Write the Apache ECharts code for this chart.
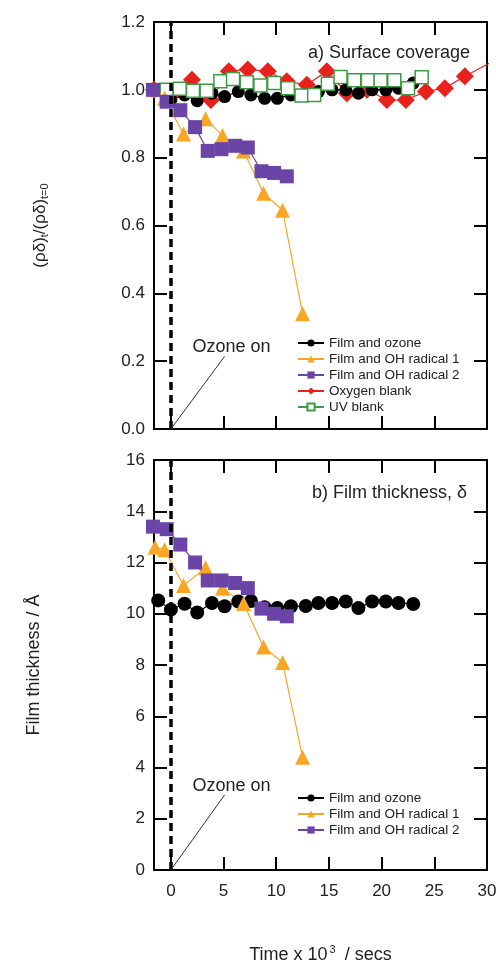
<!DOCTYPE html>
<html>
<head>
<meta charset="utf-8">
<script src="https://cdn.jsdelivr.net/npm/echarts@6/dist/echarts.min.js"></script>
<style>html,body{margin:0;padding:0;background:#fff}#c{width:496px;height:962px}</style>
</head>
<body>
<div id="c"></div>
<script>
// ---- data ----
const xTickValues = [0, 5, 10, 15, 20, 25, 30];

const xOzone = [-1.2, 0, 1.3, 2.5, 3.9, 5.1, 6.4, 7.6, 8.9, 10.1, 11.4, 12.8, 14.0, 15.3, 16.6, 17.8, 19.1, 20.4, 21.6, 23.0];
const covOzone = [1.0, 0.97, 0.985, 0.968, 0.99, 0.98, 0.995, 0.985, 0.975, 0.975, 0.985, 0.985, 0.995, 1.0, 1.0, 0.99, 1.0, 1.0, 1.005, 1.02];
const thickOzone = [10.52, 10.16, 10.39, 10.05, 10.42, 10.29, 10.48, 10.5, 10.25, 10.22, 10.29, 10.3, 10.42, 10.42, 10.48, 10.22, 10.48, 10.48, 10.42, 10.38];

const xOH1 = [-1.5, -0.6, 1.2, 3.3, 4.9, 6.9, 8.8, 10.6, 12.5];
const covOH1 = [1.0, 0.975, 0.87, 0.915, 0.865, 0.82, 0.695, 0.645, 0.34];
const thickOH1 = [12.6, 12.5, 11.1, 11.8, 11.0, 10.4, 8.7, 8.1, 4.4];

const xOH2 = [-1.7, -0.4, 0.9, 2.3, 3.5, 4.8, 6.1, 7.3, 8.6, 9.8, 11.0];
const covOH2 = [1.0, 0.965, 0.94, 0.89, 0.82, 0.825, 0.835, 0.83, 0.76, 0.755, 0.745];
const thickOH2 = [13.4, 13.3, 12.7, 12.0, 11.3, 11.3, 11.2, 11.0, 10.2, 10.0, 9.9];

const xO2 = [-1.6, 0.2, 2.0, 3.8, 5.5, 7.3, 9.2, 11.0, 12.9, 14.8, 16.7, 18.6, 20.5, 22.3, 24.2, 26.0, 27.9, 30.3];
const covO2 = [1.0, 0.99, 1.03, 0.97, 1.055, 1.06, 1.055, 1.025, 1.015, 1.055, 0.99, 1.0, 0.97, 0.97, 0.995, 1.005, 1.04, 1.08];

const xUV = [-0.4, 0.85, 2.1, 3.4, 4.7, 5.9, 7.2, 8.5, 9.8, 11.1, 12.4, 13.6, 14.9, 16.1, 17.4, 18.7, 19.9, 21.2, 22.5, 23.8];
const covUV = [1.0, 1.003, 0.997, 0.997, 1.025, 1.032, 1.022, 1.013, 1.02, 1.005, 0.983, 0.985, 1.018, 1.038, 1.028, 1.028, 1.028, 1.028, 1.005, 1.037];

// annotation anchors (data coords)
const ozoneLineTop = [[0, 0], [5.1, 0.214]];
const ozoneTextTop = [5.75, 0.243];
const ozoneLineBot = [[0, 0], [5.1, 2.93]];
const ozoneTextBot = [5.75, 3.28];

const names = ['Film and ozone', 'Film and OH radical 1', 'Film and OH radical 2', 'Oxygen blank', 'UV blank'];

// ---- chart ----
const FONT = 'Liberation Sans, Arial, sans-serif';
const TXT = '#222';
const zip = (xs, ys) => xs.map((x, i) => [x, ys[i]]);

function xAx(gi, pos, showLabel, extra) {
  return Object.assign({
    type: 'value', gridIndex: gi, position: pos, min: -1.6, max: 30,
    axisLine: { onZero: false, lineStyle: { color: '#000', width: 2 } },
    axisTick: { inside: true, length: 13, customValues: xTickValues, lineStyle: { color: '#000', width: 2 } },
    axisLabel: { show: showLabel, customValues: xTickValues, margin: 13, fontSize: 17, color: TXT, fontFamily: FONT },
    splitLine: { show: false }
  }, extra || {});
}
function yAx(gi, pos, showLabel, max, interval, fmt, extra) {
  return Object.assign({
    type: 'value', gridIndex: gi, position: pos, min: 0, max: max, interval: interval,
    axisLine: { onZero: false, lineStyle: { color: '#000', width: 2 } },
    axisTick: { inside: true, length: 13, lineStyle: { color: '#000', width: 2 } },
    axisLabel: { show: showLabel, margin: 9, fontSize: 17, color: TXT, fontFamily: FONT, formatter: fmt },
    splitLine: { show: false }
  }, extra || {});
}

const dashLine = {
  silent: true, symbol: 'none', animation: false,
  label: { show: false },
  lineStyle: { color: '#000', type: [8, 5], width: 3.5 },
  data: [{ xAxis: 0 }]
};
function ozoneLine(seg) {
  return {
    silent: true, symbol: 'none', animation: false, label: { show: false },
    lineStyle: { color: '#333', type: 'solid', width: 1 },
    data: [[{ coord: seg[0] }, { coord: seg[1] }]]
  };
}
function ozoneText(pt) {
  return {
    silent: true, animation: false,
    data: [{ coord: pt, symbol: 'rect', symbolSize: 1, itemStyle: { color: 'rgba(0,0,0,0)' },
      label: { show: true, position: 'inside', formatter: 'Ozone on', fontSize: 18, color: TXT, fontFamily: FONT } }]
  };
}

const C = { black: '#000000', orange: '#F8A623', purple: '#6A44A6', red: '#E8211D', green: '#3D9B46' };

function mk(name, gi, data, color, symbol, size, extra) {
  return Object.assign({
    name, type: 'line', xAxisIndex: gi * 2, yAxisIndex: gi * 2, data,
    symbol, symbolSize: size, showAllSymbol: true,
    lineStyle: { color, width: 1.2 },
    itemStyle: { color },
    animation: false
  }, extra || {});
}

const series = [
  mk(names[3], 0, zip(xO2, covO2), C.red, 'diamond', 18),
  mk(names[0], 0, zip(xOzone, covOzone), C.black, 'circle', 13,
     { markLine: dashLine }),
  mk(names[4], 0, zip(xUV, covUV), C.green, 'rect', 13,
     { itemStyle: { color: '#fff', borderColor: C.green, borderWidth: 1.5 } }),
  mk(names[1], 0, zip(xOH1, covOH1), C.orange, 'triangle', 15,
     { clip: false, markLine: ozoneLine(ozoneLineTop), markPoint: ozoneText(ozoneTextTop) }),
  mk(names[2], 0, zip(xOH2, covOH2), C.purple, 'rect', 14, { clip: false }),

  mk(names[0], 1, zip(xOzone, thickOzone), C.black, 'circle', 14,
     { markLine: dashLine }),
  mk(names[1], 1, zip(xOH1, thickOH1), C.orange, 'triangle', 15,
     { clip: false, markLine: ozoneLine(ozoneLineBot), markPoint: ozoneText(ozoneTextBot) }),
  mk(names[2], 1, zip(xOH2, thickOH2), C.purple, 'rect', 14, { clip: false })
];

const legendBase = {
  orient: 'vertical', left: 297, itemWidth: 26, itemHeight: 9, itemGap: 2, padding: 0,
  selectedMode: false,
  textStyle: { fontSize: 13.5, color: TXT, fontFamily: FONT, lineHeight: 14 }
};

const option = {
  backgroundColor: '#fff',
  animation: false,
  textStyle: { fontFamily: FONT },
  title: [
    { text: 'a) Surface coverage', right: 26, top: 44, padding: 0,
      textStyle: { fontSize: 18, fontWeight: 'normal', color: TXT, fontFamily: FONT } },
    { text: 'b) Film thickness, δ', right: 29, top: 484, padding: 0,
      textStyle: { fontSize: 18, fontWeight: 'normal', color: TXT, fontFamily: FONT } }
  ],
  legend: [
    Object.assign({}, legendBase, { top: 336, data: names.slice() }),
    Object.assign({}, legendBase, { top: 791, data: names.slice(0, 3) })
  ],
  grid: [
    { left: 154, right: 9, top: 22, height: 407, containLabel: false, outerBoundsMode: 'none' },
    { left: 154, right: 9, top: 460, height: 410, containLabel: false, outerBoundsMode: 'none' }
  ],
  xAxis: [
    xAx(0, 'bottom', false),
    xAx(0, 'top', false),
    xAx(1, 'bottom', true, {
      name: 'Time x 10{p|3} / secs', nameLocation: 'middle', nameGap: 74,
      nameTextStyle: { fontSize: 18, color: TXT, fontFamily: FONT, lineHeight: 22,
        rich: { p: { fontSize: 11, verticalAlign: 'top', lineHeight: 11, color: TXT, padding: [0, 4, 0, 2] } } }
    }),
    xAx(1, 'top', false)
  ],
  yAxis: [
    yAx(0, 'left', true, 1.2, 0.2, v => v.toFixed(1), {
      name: '(ρδ){s|t}/(ρδ){s|t=0}', nameLocation: 'middle', nameGap: 104,
      nameTextStyle: { fontSize: 17, color: TXT, fontFamily: FONT, lineHeight: 20,
        rich: { s: { fontSize: 11, verticalAlign: 'bottom', lineHeight: 11, color: TXT } } }
    }),
    yAx(0, 'right', false, 1.2, 0.2),
    yAx(1, 'left', true, 16, 2, v => String(v), {
      name: 'Film thickness / Å', nameLocation: 'middle', nameGap: 111,
      nameTextStyle: { fontSize: 18, color: TXT, fontFamily: FONT }
    }),
    yAx(1, 'right', false, 16, 2)
  ],
  series
};

const chart = echarts.init(document.getElementById('c'), null, { renderer: 'canvas' });
chart.setOption(option);
</script>
</body>
</html>
